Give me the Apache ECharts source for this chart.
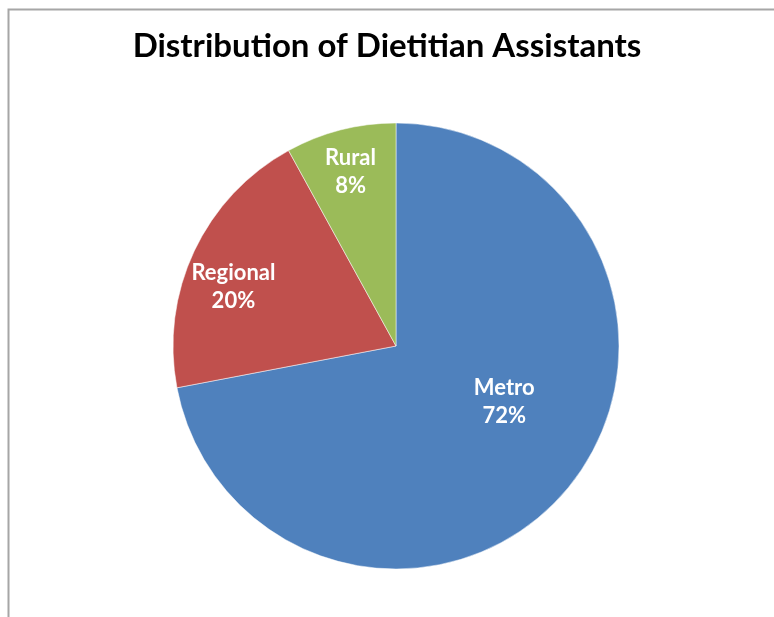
<!DOCTYPE html>
<html>
<head>
<meta charset="utf-8">
<script src="https://cdn.jsdelivr.net/npm/echarts@6/dist/echarts.min.js"></script>
<style>
  html, body { margin: 0; padding: 0; background: #fff; }
  #chart { width: 774px; height: 617px; }
</style>
</head>
<body>
<div id="chart"></div>
<script>
// data
const categories = ['Metro', 'Regional', 'Rural'];
const shares = [72, 20, 8];
const colors = ['#4F81BD', '#C0504D', '#9BBB59'];
// nudges so labels sit where Excel put them
const labelOffsets = [[20, -17], [-59, -10], [-17, -63]];

const chart = echarts.init(document.getElementById('chart'));

chart.setOption({
  backgroundColor: '#fff',
  animation: false,
  title: {
    text: 'Distribution of Dietitian Assistants',
    left: 'center',
    top: 25,
    textStyle: { fontFamily: 'Lato', fontWeight: 'bold', fontSize: 33, color: '#000' }
  },
  graphic: [{
    type: 'polyline',
    shape: { points: [[8.5, 617], [8.5, 9.5], [774, 9.5]] },
    style: { stroke: '#a6a6a6', lineWidth: 2, fill: null }
  }],
  series: [{
    type: 'pie',
    center: [396, 346],
    radius: 223,
    startAngle: 90,
    clockwise: true,
    itemStyle: { borderColor: '#fff', borderWidth: 0.5 },
    label: {
      show: true,
      position: 'inside',
      formatter: p => p.name + '\n' + p.value + '%',
      color: '#fff',
      fontFamily: 'Lato',
      fontWeight: 'bold',
      fontSize: 22,
      lineHeight: 28,
      align: 'center'
    },
    labelLine: { show: false },
    emphasis: { disabled: true },
    data: categories.map((name, i) => ({
      name,
      value: shares[i],
      itemStyle: { color: colors[i] },
      label: { offset: labelOffsets[i] }
    }))
  }]
});
</script>
</body>
</html>
